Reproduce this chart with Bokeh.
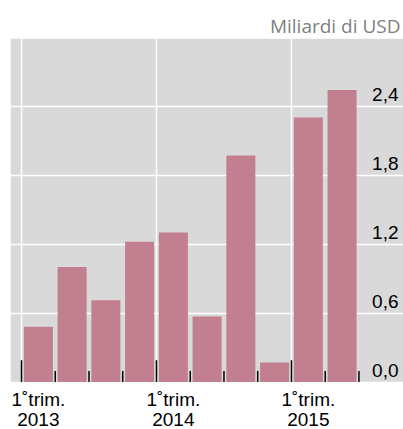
import numpy as np
from bokeh.plotting import figure
from bokeh.models import ColumnDataSource, Range1d, BoxAnnotation
from bokeh.core.properties import value
from bokeh.embed import file_html
from bokeh.resources import INLINE

# Data
quarters = ["T1 2013", "T2 2013", "T3 2013", "T4 2013",
            "T1 2014", "T2 2014", "T3 2014", "T4 2014",
            "T1 2015", "T2 2015"]
values = [0.48, 1.00, 0.71, 1.22, 1.30, 0.57, 1.97, 0.17, 2.30, 2.54]
y_ticks = [0.0, 0.6, 1.2, 1.8, 2.4]
y_tick_labels = ["0,0", "0,6", "1,2", "1,8", "2,4"]
label_pos = [0.5, 4.5, 8.5]
label_line1 = ["1˚trim.", "1˚trim.", "1˚trim."]
label_line2 = ["2013", "2014", "2015"]

n = len(values)
x_start, x_end = -0.326, 11.32
y_lo, y_hi = -0.413, 2.987   # frame extends below the plot area to hold the labels
y_plot_bottom = -0.009

p = figure(width=403, height=429, output_backend="svg", toolbar_location=None,
           x_range=Range1d(x_start, x_end), y_range=Range1d(y_lo, y_hi),
           min_border_left=10, min_border_right=0, min_border_top=38,
           min_border_bottom=0)
p.background_fill_color = "white"
p.border_fill_color = "white"
p.outline_line_color = None
p.grid.visible = False
p.xaxis.visible = False
p.yaxis.visible = False

p.title.text = "Miliardi di USD"
p.title.align = "right"
p.title.text_color = "#808080"
p.title.text_font = "Open Sans"
p.title.text_font_size = "19px"
p.title.text_font_style = "normal"
p.title.standoff = -1
p.title.offset = 3

# plot area background
p.add_layout(BoxAnnotation(bottom=y_plot_bottom, fill_color="#d9d9d9", fill_alpha=1,
                           line_color=None, level="underlay"))

# grid lines
p.hspan(y=y_ticks, line_color="white", line_width=1.5)
year_bounds = [i for i in range(n + 1) if i % 4 == 0]
p.segment(x0=year_bounds, y0=[y_plot_bottom] * len(year_bounds),
          x1=year_bounds, y1=[y_hi] * len(year_bounds),
          line_color="white", line_width=1.5)

# bars
src = ColumnDataSource(dict(x=np.arange(n) + 0.5, top=values))
p.vbar(x="x", top="top", bottom=0, width=0.86, source=src,
       fill_color="#c27f8f", line_color=None)

# quarter tick marks
tx = np.arange(n + 1)
th = np.where(tx % 4 == 0, 0.19, 0.095)
p.segment(x0=tx, y0=np.zeros(n + 1), x1=tx, y1=th, line_color="black", line_width=1.5)

# y labels inside plot
p.text(x=[x_end] * len(y_ticks), y=y_ticks, text=y_tick_labels,
       text_align="right", text_baseline="bottom", x_offset=-5, y_offset=-5,
       text_font=value("Liberation Sans"), text_font_size="19px", text_color="black")

# x labels below the plot area
p.text(x=label_pos, y=[y_lo] * len(label_pos), text=label_line1, y_offset=-30,
       text_align="center", text_baseline="alphabetic",
       text_font=value("Liberation Sans"), text_font_size="19px", text_color="black")
p.text(x=label_pos, y=[y_lo] * len(label_pos), text=label_line2, y_offset=-10,
       text_align="center", text_baseline="alphabetic",
       text_font=value("Liberation Sans"), text_font_size="19px", text_color="black")

open("out.html", "w").write(file_html(p, INLINE))
